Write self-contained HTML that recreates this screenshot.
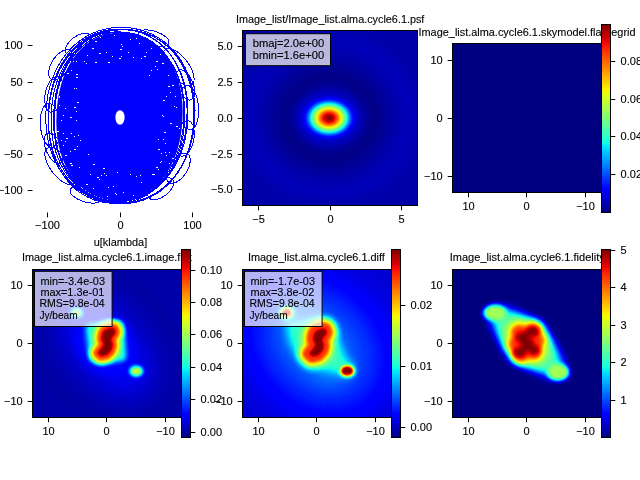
<!DOCTYPE html>
<html><head><meta charset="utf-8"><style>
html,body{margin:0;padding:0;background:#fff;width:640px;height:480px;overflow:hidden}
svg{will-change:transform}
svg text{font-family:"Liberation Sans", sans-serif;stroke:#000;stroke-width:0.12px}
</style></head><body>
<svg width="640" height="480" viewBox="0 0 640 480" style="display:block">
<defs><filter id="jet" x="0" y="0" width="1" height="1" color-interpolation-filters="sRGB" filterUnits="objectBoundingBox">
<feComponentTransfer><feFuncR type="table" tableValues="0 0 0 0 0 0 0 0 0 0 0 0 0 0 0 0 0 0 0 0 0 0 0 0 0 0 0 0 0 0 0 0 0 0 0 0 0.032 0.065 0.097 0.129 0.161 0.194 0.226 0.258 0.29 0.323 0.355 0.387 0.419 0.452 0.484 0.516 0.548 0.581 0.613 0.645 0.677 0.71 0.742 0.774 0.806 0.839 0.871 0.903 0.935 0.968 1 1 1 1 1 1 1 1 1 1 1 1 1 1 1 1 1 1 1 1 1 1 1 1 0.955 0.909 0.864 0.818 0.773 0.727 0.682 0.636 0.591 0.545 0.5"/><feFuncG type="table" tableValues="0 0 0 0 0 0 0 0 0 0 0 0 0 0.02 0.06 0.1 0.14 0.18 0.22 0.26 0.3 0.34 0.38 0.42 0.46 0.5 0.54 0.58 0.62 0.66 0.7 0.74 0.78 0.82 0.86 0.9 0.94 0.98 1 1 1 1 1 1 1 1 1 1 1 1 1 1 1 1 1 1 1 1 1 1 1 1 1 1 1 0.963 0.926 0.889 0.852 0.815 0.778 0.741 0.704 0.667 0.63 0.593 0.556 0.519 0.481 0.444 0.407 0.37 0.333 0.296 0.259 0.222 0.185 0.148 0.111 0.074 0.037 0 0 0 0 0 0 0 0 0 0"/><feFuncB type="table" tableValues="0.5 0.545 0.591 0.636 0.682 0.727 0.773 0.818 0.864 0.909 0.955 1 1 1 1 1 1 1 1 1 1 1 1 1 1 1 1 1 1 1 1 1 1 1 1 0.968 0.935 0.903 0.871 0.839 0.806 0.774 0.742 0.71 0.677 0.645 0.613 0.581 0.548 0.516 0.484 0.452 0.419 0.387 0.355 0.323 0.29 0.258 0.226 0.194 0.161 0.129 0.097 0.065 0.032 0 0 0 0 0 0 0 0 0 0 0 0 0 0 0 0 0 0 0 0 0 0 0 0 0 0 0 0 0 0 0 0 0 0 0 0"/><feFuncA type="identity"/></feComponentTransfer></filter><radialGradient id="gau"><stop offset="0.0000" stop-color="#fff" stop-opacity="1.0000"/><stop offset="0.0625" stop-color="#fff" stop-opacity="0.9826"/><stop offset="0.1250" stop-color="#fff" stop-opacity="0.9321"/><stop offset="0.1875" stop-color="#fff" stop-opacity="0.8537"/><stop offset="0.2500" stop-color="#fff" stop-opacity="0.7548"/><stop offset="0.3125" stop-color="#fff" stop-opacity="0.6444"/><stop offset="0.3750" stop-color="#fff" stop-opacity="0.5311"/><stop offset="0.4375" stop-color="#fff" stop-opacity="0.4226"/><stop offset="0.5000" stop-color="#fff" stop-opacity="0.3247"/><stop offset="0.5625" stop-color="#fff" stop-opacity="0.2408"/><stop offset="0.6250" stop-color="#fff" stop-opacity="0.1724"/><stop offset="0.6875" stop-color="#fff" stop-opacity="0.1192"/><stop offset="0.7500" stop-color="#fff" stop-opacity="0.0796"/><stop offset="0.8125" stop-color="#fff" stop-opacity="0.0513"/><stop offset="0.8750" stop-color="#fff" stop-opacity="0.0319"/><stop offset="0.9375" stop-color="#fff" stop-opacity="0.0192"/><stop offset="1.0000" stop-color="#fff" stop-opacity="0.0111"/></radialGradient><linearGradient id="cbar" x1="0" y1="1" x2="0" y2="0"><stop offset="0.000" stop-color="rgb(0,0,128)"/><stop offset="0.025" stop-color="rgb(0,0,156)"/><stop offset="0.050" stop-color="rgb(0,0,185)"/><stop offset="0.075" stop-color="rgb(0,0,214)"/><stop offset="0.100" stop-color="rgb(0,0,243)"/><stop offset="0.125" stop-color="rgb(0,0,255)"/><stop offset="0.150" stop-color="rgb(0,26,255)"/><stop offset="0.175" stop-color="rgb(0,51,255)"/><stop offset="0.200" stop-color="rgb(0,77,255)"/><stop offset="0.225" stop-color="rgb(0,102,255)"/><stop offset="0.250" stop-color="rgb(0,128,255)"/><stop offset="0.275" stop-color="rgb(0,153,255)"/><stop offset="0.300" stop-color="rgb(0,179,255)"/><stop offset="0.325" stop-color="rgb(0,204,255)"/><stop offset="0.350" stop-color="rgb(0,230,247)"/><stop offset="0.375" stop-color="rgb(21,255,226)"/><stop offset="0.400" stop-color="rgb(41,255,206)"/><stop offset="0.425" stop-color="rgb(62,255,185)"/><stop offset="0.450" stop-color="rgb(82,255,165)"/><stop offset="0.475" stop-color="rgb(103,255,144)"/><stop offset="0.500" stop-color="rgb(123,255,123)"/><stop offset="0.525" stop-color="rgb(144,255,103)"/><stop offset="0.550" stop-color="rgb(165,255,82)"/><stop offset="0.575" stop-color="rgb(185,255,62)"/><stop offset="0.600" stop-color="rgb(206,255,41)"/><stop offset="0.625" stop-color="rgb(226,255,21)"/><stop offset="0.650" stop-color="rgb(247,246,0)"/><stop offset="0.675" stop-color="rgb(255,222,0)"/><stop offset="0.700" stop-color="rgb(255,198,0)"/><stop offset="0.725" stop-color="rgb(255,175,0)"/><stop offset="0.750" stop-color="rgb(255,151,0)"/><stop offset="0.775" stop-color="rgb(255,128,0)"/><stop offset="0.800" stop-color="rgb(255,104,0)"/><stop offset="0.825" stop-color="rgb(255,80,0)"/><stop offset="0.850" stop-color="rgb(255,57,0)"/><stop offset="0.875" stop-color="rgb(255,33,0)"/><stop offset="0.900" stop-color="rgb(243,9,0)"/><stop offset="0.925" stop-color="rgb(214,0,0)"/><stop offset="0.950" stop-color="rgb(185,0,0)"/><stop offset="0.975" stop-color="rgb(156,0,0)"/><stop offset="1.000" stop-color="rgb(128,0,0)"/></linearGradient><radialGradient id="psfdark"><stop offset="0" stop-color="#000" stop-opacity="0"/><stop offset="0.42" stop-color="#000" stop-opacity="0"/><stop offset="0.55" stop-color="#000" stop-opacity="0.6"/><stop offset="0.65" stop-color="#000" stop-opacity="0.85"/><stop offset="0.78" stop-color="#000" stop-opacity="0.5"/><stop offset="0.9" stop-color="#000" stop-opacity="0.15"/><stop offset="1" stop-color="#000" stop-opacity="0"/></radialGradient><radialGradient id="psfedge"><stop offset="0" stop-color="#000" stop-opacity="0"/><stop offset="0.45" stop-color="#000" stop-opacity="0"/><stop offset="0.6" stop-color="#000" stop-opacity="0.35"/><stop offset="0.72" stop-color="#000" stop-opacity="0.45"/><stop offset="0.85" stop-color="#000" stop-opacity="0.2"/><stop offset="1" stop-color="#000" stop-opacity="0"/></radialGradient><radialGradient id="psflight"><stop offset="0" stop-color="#fff" stop-opacity="0"/><stop offset="0.6" stop-color="#fff" stop-opacity="0"/><stop offset="0.8" stop-color="#fff" stop-opacity="0.015"/><stop offset="1" stop-color="#fff" stop-opacity="0"/></radialGradient><filter id="b14" filterUnits="userSpaceOnUse" x="-100" y="-100" width="840" height="680" color-interpolation-filters="sRGB"><feGaussianBlur stdDeviation="14"/></filter><filter id="b6" filterUnits="userSpaceOnUse" x="-100" y="-100" width="840" height="680" color-interpolation-filters="sRGB"><feGaussianBlur stdDeviation="6"/></filter><filter id="b2_8" filterUnits="userSpaceOnUse" x="-100" y="-100" width="840" height="680" color-interpolation-filters="sRGB"><feGaussianBlur stdDeviation="2.8"/></filter><filter id="b2_3" filterUnits="userSpaceOnUse" x="-100" y="-100" width="840" height="680" color-interpolation-filters="sRGB"><feGaussianBlur stdDeviation="2.3"/></filter><filter id="b2" filterUnits="userSpaceOnUse" x="-100" y="-100" width="840" height="680" color-interpolation-filters="sRGB"><feGaussianBlur stdDeviation="2"/></filter><filter id="b1_5" filterUnits="userSpaceOnUse" x="-100" y="-100" width="840" height="680" color-interpolation-filters="sRGB"><feGaussianBlur stdDeviation="1.5"/></filter><filter id="b1_2" filterUnits="userSpaceOnUse" x="-100" y="-100" width="840" height="680" color-interpolation-filters="sRGB"><feGaussianBlur stdDeviation="1.2"/></filter><filter id="b2_2" filterUnits="userSpaceOnUse" x="-100" y="-100" width="840" height="680" color-interpolation-filters="sRGB"><feGaussianBlur stdDeviation="2.2"/></filter><filter id="b2_5" filterUnits="userSpaceOnUse" x="-100" y="-100" width="840" height="680" color-interpolation-filters="sRGB"><feGaussianBlur stdDeviation="2.5"/></filter><filter id="b20" filterUnits="userSpaceOnUse" x="-100" y="-100" width="840" height="680" color-interpolation-filters="sRGB"><feGaussianBlur stdDeviation="20"/></filter><filter id="b8" filterUnits="userSpaceOnUse" x="-100" y="-100" width="840" height="680" color-interpolation-filters="sRGB"><feGaussianBlur stdDeviation="8"/></filter><filter id="b4_5" filterUnits="userSpaceOnUse" x="-100" y="-100" width="840" height="680" color-interpolation-filters="sRGB"><feGaussianBlur stdDeviation="4.5"/></filter><filter id="b3" filterUnits="userSpaceOnUse" x="-100" y="-100" width="840" height="680" color-interpolation-filters="sRGB"><feGaussianBlur stdDeviation="3"/></filter><filter id="b1_6" filterUnits="userSpaceOnUse" x="-100" y="-100" width="840" height="680" color-interpolation-filters="sRGB"><feGaussianBlur stdDeviation="1.6"/></filter><filter id="b1_3" filterUnits="userSpaceOnUse" x="-100" y="-100" width="840" height="680" color-interpolation-filters="sRGB"><feGaussianBlur stdDeviation="1.3"/></filter><filter id="b1_8" filterUnits="userSpaceOnUse" x="-100" y="-100" width="840" height="680" color-interpolation-filters="sRGB"><feGaussianBlur stdDeviation="1.8"/></filter><filter id="b5" filterUnits="userSpaceOnUse" x="-100" y="-100" width="840" height="680" color-interpolation-filters="sRGB"><feGaussianBlur stdDeviation="5"/></filter><filter id="b3_2" filterUnits="userSpaceOnUse" x="-100" y="-100" width="840" height="680" color-interpolation-filters="sRGB"><feGaussianBlur stdDeviation="3.2"/></filter><filter id="b2_4" filterUnits="userSpaceOnUse" x="-100" y="-100" width="840" height="680" color-interpolation-filters="sRGB"><feGaussianBlur stdDeviation="2.4"/></filter></defs>
<g fill="none" stroke="#0000ff" stroke-width="1" shape-rendering="crispEdges" transform="rotate(3 119.5 116.5)">
<path d="M182.5,116.5 L182.3,125.2 L181.6,133.0 L180.5,140.4 L179.0,147.5 L177.0,154.2 L174.6,160.6 L171.8,166.6 L168.7,172.2 L165.1,177.4 L161.3,182.1 L157.1,186.3 L152.6,190.0 L147.8,193.2 L142.7,195.8 L137.4,197.8 L131.9,199.3 L126.0,200.2 L119.5,200.5 L113.0,200.2 L107.1,199.3 L101.6,197.8 L96.3,195.8 L91.2,193.2 L86.4,190.0 L81.9,186.3 L77.7,182.1 L73.9,177.4 L70.3,172.2 L67.2,166.6 L64.4,160.6 L62.0,154.2 L60.0,147.5 L58.5,140.4 L57.4,133.0 L56.7,125.2 L56.5,116.5 L56.7,107.8 L57.4,100.0 L58.5,92.6 L60.0,85.5 L62.0,78.8 L64.4,72.4 L67.2,66.4 L70.3,60.8 L73.9,55.6 L77.7,50.9 L81.9,46.7 L86.4,43.0 L91.2,39.8 L96.3,37.2 L101.6,35.2 L107.1,33.7 L113.0,32.8 L119.5,32.5 L126.0,32.8 L131.9,33.7 L137.4,35.2 L142.7,37.2 L147.8,39.8 L152.6,43.0 L157.1,46.7 L161.3,50.9 L165.1,55.6 L168.7,60.8 L171.8,66.4 L174.6,72.4 L177.0,78.8 L179.0,85.5 L180.5,92.6 L181.6,100.0 L182.3,107.8Z" fill="#0000ff" stroke="none" shape-rendering="auto"/>
<path d="M181.4,116.7 L181.2,124.9 L180.5,132.6 L179.4,139.9 L177.8,147.0 L175.7,153.8 L173.3,160.2 L170.4,166.3 L167.2,172.0 L163.6,177.3 L159.6,182.1 L155.3,186.4 L150.7,190.2 L145.9,193.4 L140.8,196.1 L135.5,198.2 L129.9,199.8 L124.1,200.7 L117.9,201.0 L111.7,200.7 L105.9,199.8 L100.4,198.2 L95.1,196.1 L90.0,193.4 L85.1,190.2 L80.5,186.4 L76.2,182.1 L72.3,177.3 L68.7,172.0 L65.4,166.3 L62.6,160.2 L60.1,153.8 L58.1,147.0 L56.5,139.9 L55.3,132.6 L54.7,124.9 L54.4,116.7 L54.7,108.4 L55.3,100.8 L56.5,93.4 L58.1,86.3 L60.1,79.6 L62.6,73.1 L65.4,67.0 L68.7,61.3 L72.3,56.1 L76.2,51.3 L80.5,47.0 L85.1,43.2 L90.0,39.9 L95.1,37.2 L100.4,35.1 L105.9,33.6 L111.7,32.7 L117.9,32.4 L124.1,32.7 L129.9,33.6 L135.5,35.1 L140.8,37.2 L145.9,39.9 L150.7,43.2 L155.3,47.0 L159.6,51.3 L163.6,56.1 L167.2,61.3 L170.4,67.0 L173.3,73.1 L175.7,79.6 L177.8,86.3 L179.4,93.4 L180.5,100.8 L181.2,108.4Z"/>
<path d="M183.8,116.9 L183.6,125.2 L182.8,132.9 L181.7,140.3 L180.0,147.4 L178.0,154.3 L175.5,160.7 L172.5,166.9 L169.2,172.6 L165.5,177.9 L161.4,182.7 L157.0,187.0 L152.3,190.9 L147.4,194.1 L142.1,196.8 L136.7,199.0 L131.0,200.5 L125.1,201.4 L118.7,201.7 L112.3,201.4 L106.4,200.5 L100.8,199.0 L95.3,196.8 L90.1,194.1 L85.1,190.9 L80.4,187.0 L76.0,182.7 L71.9,177.9 L68.2,172.6 L64.9,166.9 L62.0,160.7 L59.5,154.3 L57.4,147.4 L55.8,140.3 L54.6,132.9 L53.9,125.2 L53.6,116.9 L53.9,108.6 L54.6,100.9 L55.8,93.5 L57.4,86.4 L59.5,79.6 L62.0,73.1 L64.9,67.0 L68.2,61.2 L71.9,56.0 L76.0,51.1 L80.4,46.8 L85.1,43.0 L90.1,39.7 L95.3,37.0 L100.8,34.9 L106.4,33.3 L112.3,32.4 L118.7,32.1 L125.1,32.4 L131.0,33.3 L136.7,34.9 L142.1,37.0 L147.4,39.7 L152.3,43.0 L157.0,46.8 L161.4,51.1 L165.5,56.0 L169.2,61.2 L172.5,67.0 L175.5,73.1 L178.0,79.6 L180.0,86.4 L181.7,93.5 L182.8,100.9 L183.6,108.6Z"/>
<path d="M186.9,114.8 L186.7,123.1 L185.9,130.9 L184.7,138.3 L183.1,145.5 L180.9,152.3 L178.4,158.8 L175.4,165.0 L172.0,170.8 L168.2,176.1 L164.0,180.9 L159.5,185.3 L154.7,189.1 L149.6,192.4 L144.2,195.2 L138.6,197.3 L132.8,198.8 L126.8,199.8 L120.3,200.1 L113.7,199.8 L107.7,198.8 L101.9,197.3 L96.3,195.2 L90.9,192.4 L85.8,189.1 L81.0,185.3 L76.5,180.9 L72.3,176.1 L68.6,170.8 L65.1,165.0 L62.1,158.8 L59.6,152.3 L57.4,145.5 L55.8,138.3 L54.6,130.9 L53.9,123.1 L53.6,114.8 L53.9,106.4 L54.6,98.7 L55.8,91.2 L57.4,84.1 L59.6,77.2 L62.1,70.7 L65.1,64.5 L68.6,58.8 L72.3,53.4 L76.5,48.6 L81.0,44.2 L85.8,40.4 L90.9,37.1 L96.3,34.4 L101.9,32.2 L107.7,30.7 L113.7,29.8 L120.3,29.5 L126.8,29.8 L132.8,30.7 L138.6,32.2 L144.2,34.4 L149.6,37.1 L154.7,40.4 L159.5,44.2 L164.0,48.6 L168.2,53.4 L172.0,58.8 L175.4,64.5 L178.4,70.7 L180.9,77.2 L183.1,84.1 L184.7,91.2 L185.9,98.7 L186.7,106.4Z"/>
<path d="M184.8,117.8 L184.5,126.2 L183.8,134.0 L182.6,141.5 L180.9,148.7 L178.7,155.6 L176.1,162.2 L173.0,168.4 L169.5,174.2 L165.6,179.5 L161.4,184.4 L156.8,188.8 L151.8,192.7 L146.6,196.0 L141.1,198.7 L135.4,200.9 L129.5,202.4 L123.3,203.3 L116.6,203.6 L109.9,203.3 L103.7,202.4 L97.8,200.9 L92.0,198.7 L86.5,196.0 L81.3,192.7 L76.4,188.8 L71.8,184.4 L67.5,179.5 L63.7,174.2 L60.2,168.4 L57.1,162.2 L54.5,155.6 L52.3,148.7 L50.6,141.5 L49.4,134.0 L48.6,126.2 L48.4,117.8 L48.6,109.5 L49.4,101.7 L50.6,94.2 L52.3,87.0 L54.5,80.1 L57.1,73.5 L60.2,67.3 L63.7,61.5 L67.5,56.2 L71.8,51.3 L76.4,46.9 L81.3,43.0 L86.5,39.7 L92.0,37.0 L97.8,34.8 L103.7,33.3 L109.9,32.4 L116.6,32.0 L123.3,32.4 L129.5,33.3 L135.4,34.8 L141.1,37.0 L146.6,39.7 L151.8,43.0 L156.8,46.9 L161.4,51.3 L165.6,56.2 L169.5,61.5 L173.0,67.3 L176.1,73.5 L178.7,80.1 L180.9,87.0 L182.6,94.2 L183.8,101.7 L184.5,109.5Z"/>
<path d="M187.8,115.4 L187.6,123.9 L186.8,131.7 L185.6,139.3 L183.8,146.5 L181.6,153.4 L178.9,160.0 L175.8,166.3 L172.2,172.1 L168.2,177.5 L163.9,182.4 L159.2,186.8 L154.1,190.7 L148.8,194.0 L143.2,196.8 L137.3,198.9 L131.2,200.5 L124.9,201.4 L118.1,201.7 L111.2,201.4 L104.9,200.5 L98.8,198.9 L92.9,196.8 L87.3,194.0 L82.0,190.7 L77.0,186.8 L72.2,182.4 L67.9,177.5 L63.9,172.1 L60.3,166.3 L57.2,160.0 L54.5,153.4 L52.3,146.5 L50.5,139.3 L49.3,131.7 L48.5,123.9 L48.3,115.4 L48.5,107.0 L49.3,99.1 L50.5,91.6 L52.3,84.4 L54.5,77.4 L57.2,70.8 L60.3,64.6 L63.9,58.8 L67.9,53.4 L72.2,48.5 L77.0,44.1 L82.0,40.2 L87.3,36.9 L92.9,34.1 L98.8,31.9 L104.9,30.4 L111.2,29.5 L118.1,29.1 L124.9,29.5 L131.2,30.4 L137.3,31.9 L143.2,34.1 L148.8,36.9 L154.1,40.2 L159.2,44.1 L163.9,48.5 L168.2,53.4 L172.2,58.8 L175.8,64.6 L178.9,70.8 L181.6,77.4 L183.8,84.4 L185.6,91.6 L186.8,99.1 L187.6,107.0Z"/>
<path d="M193.8,116.4 L193.6,124.9 L192.8,132.8 L191.5,140.3 L189.7,147.6 L187.4,154.6 L184.7,161.2 L181.5,167.5 L177.8,173.4 L173.8,178.8 L169.3,183.7 L164.5,188.2 L159.3,192.1 L153.9,195.4 L148.2,198.2 L142.2,200.4 L135.9,201.9 L129.5,202.9 L122.5,203.2 L115.5,202.9 L109.0,201.9 L102.8,200.4 L96.8,198.2 L91.1,195.4 L85.6,192.1 L80.4,188.2 L75.6,183.7 L71.2,178.8 L67.1,173.4 L63.5,167.5 L60.3,161.2 L57.5,154.6 L55.2,147.6 L53.4,140.3 L52.1,132.8 L51.4,124.9 L51.1,116.4 L51.4,107.9 L52.1,100.0 L53.4,92.4 L55.2,85.1 L57.5,78.2 L60.3,71.5 L63.5,65.3 L67.1,59.4 L71.2,54.0 L75.6,49.0 L80.4,44.6 L85.6,40.7 L91.1,37.3 L96.8,34.6 L102.8,32.4 L109.0,30.8 L115.5,29.9 L122.5,29.6 L129.5,29.9 L135.9,30.8 L142.2,32.4 L148.2,34.6 L153.9,37.3 L159.3,40.7 L164.5,44.6 L169.3,49.0 L173.8,54.0 L177.8,59.4 L181.5,65.3 L184.7,71.5 L187.4,78.2 L189.7,85.1 L191.5,92.4 L192.8,100.0 L193.6,107.9Z"/>
<path d="M194.4,116.4 L194.2,125.0 L193.4,132.9 L192.1,140.5 L190.3,147.8 L187.9,154.8 L185.1,161.5 L181.8,167.8 L178.1,173.7 L173.9,179.2 L169.4,184.1 L164.5,188.6 L159.2,192.5 L153.6,195.9 L147.8,198.7 L141.6,200.9 L135.3,202.4 L128.7,203.4 L121.5,203.7 L114.4,203.4 L107.8,202.4 L101.4,200.9 L95.3,198.7 L89.4,195.9 L83.8,192.5 L78.6,188.6 L73.6,184.1 L69.1,179.2 L64.9,173.7 L61.2,167.8 L57.9,161.5 L55.1,154.8 L52.8,147.8 L51.0,140.5 L49.6,132.9 L48.9,125.0 L48.6,116.4 L48.9,107.9 L49.6,99.9 L51.0,92.3 L52.8,85.0 L55.1,78.0 L57.9,71.3 L61.2,65.0 L64.9,59.1 L69.1,53.6 L73.6,48.7 L78.6,44.2 L83.8,40.3 L89.4,36.9 L95.3,34.1 L101.4,31.9 L107.8,30.4 L114.4,29.4 L121.5,29.1 L128.7,29.4 L135.3,30.4 L141.6,31.9 L147.8,34.1 L153.6,36.9 L159.2,40.3 L164.5,44.2 L169.4,48.7 L173.9,53.6 L178.1,59.1 L181.8,65.0 L185.1,71.3 L187.9,78.0 L190.3,85.0 L192.1,92.3 L193.4,99.9 L194.2,107.9Z"/>
<path d="M194.8,115.1 L194.6,123.7 L193.8,131.7 L192.4,139.3 L190.5,146.7 L188.2,153.8 L185.3,160.5 L181.9,166.8 L178.1,172.7 L173.9,178.2 L169.2,183.2 L164.2,187.7 L158.8,191.7 L153.1,195.0 L147.2,197.9 L140.9,200.1 L134.4,201.6 L127.6,202.6 L120.3,202.9 L113.0,202.6 L106.3,201.6 L99.8,200.1 L93.5,197.9 L87.5,195.0 L81.8,191.7 L76.5,187.7 L71.4,183.2 L66.8,178.2 L62.5,172.7 L58.7,166.8 L55.4,160.5 L52.5,153.8 L50.1,146.7 L48.3,139.3 L46.9,131.7 L46.1,123.7 L45.8,115.1 L46.1,106.5 L46.9,98.5 L48.3,90.9 L50.1,83.5 L52.5,76.4 L55.4,69.7 L58.7,63.4 L62.5,57.5 L66.8,52.0 L71.4,47.0 L76.5,42.5 L81.8,38.5 L87.5,35.2 L93.5,32.4 L99.8,30.2 L106.3,28.6 L113.0,27.6 L120.3,27.3 L127.6,27.6 L134.4,28.6 L140.9,30.2 L147.2,32.4 L153.1,35.2 L158.8,38.5 L164.2,42.5 L169.2,47.0 L173.9,52.0 L178.1,57.5 L181.9,63.4 L185.3,69.7 L188.2,76.4 L190.5,83.5 L192.4,90.9 L193.8,98.5 L194.6,106.5Z"/>
<ellipse cx="176.0" cy="64.0" rx="10" ry="22" transform="rotate(-40 176.0 64.0)"/>
<ellipse cx="63.0" cy="169.0" rx="10" ry="22" transform="rotate(-40 63.0 169.0)"/>
<ellipse cx="188.0" cy="104.0" rx="10" ry="22" transform="rotate(-8 188.0 104.0)"/>
<ellipse cx="51.0" cy="129.0" rx="10" ry="22" transform="rotate(-8 51.0 129.0)"/>
<ellipse cx="186.0" cy="135.0" rx="9" ry="18" transform="rotate(8 186.0 135.0)"/>
<ellipse cx="53.0" cy="98.0" rx="9" ry="18" transform="rotate(8 53.0 98.0)"/>
<ellipse cx="181.0" cy="165.0" rx="9" ry="17" transform="rotate(30 181.0 165.0)"/>
<ellipse cx="58.0" cy="68.0" rx="9" ry="17" transform="rotate(30 58.0 68.0)"/>
<ellipse cx="164.5" cy="186.5" rx="8" ry="15" transform="rotate(50 164.5 186.5)"/>
<ellipse cx="74.5" cy="46.5" rx="8" ry="15" transform="rotate(50 74.5 46.5)"/>
<ellipse cx="149.5" cy="36.5" rx="7" ry="16" transform="rotate(-75 149.5 36.5)"/>
<ellipse cx="89.5" cy="196.5" rx="7" ry="16" transform="rotate(-75 89.5 196.5)"/>
<ellipse cx="183.5" cy="81.5" rx="8" ry="16" transform="rotate(-25 183.5 81.5)"/>
<ellipse cx="55.5" cy="151.5" rx="8" ry="16" transform="rotate(-25 55.5 151.5)"/>
</g>
<g fill="#fff" shape-rendering="crispEdges"><rect x="66" y="138" width="2" height="1"/><rect x="61" y="140" width="1" height="1"/><rect x="141" y="182" width="1" height="1"/><rect x="161" y="153" width="1" height="1"/><rect x="59" y="97" width="1" height="1"/><rect x="76" y="77" width="2" height="1"/><rect x="87" y="55" width="1" height="1"/><rect x="76" y="61" width="1" height="1"/><rect x="163" y="139" width="1" height="1"/><rect x="71" y="70" width="1" height="1"/><rect x="63" y="145" width="1" height="1"/><rect x="84" y="61" width="1" height="1"/><rect x="71" y="133" width="1" height="1"/><rect x="106" y="52" width="1" height="1"/><rect x="76" y="111" width="1" height="1"/><rect x="70" y="163" width="2" height="1"/><rect x="158" y="139" width="1" height="1"/><rect x="133" y="195" width="1" height="1"/><rect x="57" y="131" width="2" height="1"/><rect x="70" y="151" width="1" height="1"/><rect x="128" y="52" width="1" height="1"/><rect x="103" y="168" width="2" height="1"/><rect x="121" y="56" width="1" height="1"/><rect x="108" y="62" width="2" height="1"/><rect x="133" y="57" width="1" height="1"/><rect x="74" y="136" width="1" height="1"/><rect x="74" y="149" width="2" height="1"/><rect x="77" y="146" width="1" height="1"/><rect x="160" y="54" width="1" height="1"/><rect x="162" y="115" width="1" height="1"/><rect x="71" y="165" width="1" height="1"/><rect x="164" y="132" width="2" height="1"/><rect x="116" y="194" width="1" height="1"/><rect x="144" y="56" width="1" height="1"/><rect x="166" y="155" width="1" height="1"/><rect x="170" y="123" width="2" height="1"/><rect x="158" y="169" width="1" height="1"/><rect x="151" y="70" width="1" height="1"/><rect x="101" y="175" width="1" height="1"/><rect x="112" y="56" width="1" height="1"/><rect x="99" y="53" width="2" height="1"/><rect x="77" y="74" width="1" height="1"/><rect x="161" y="161" width="1" height="1"/><rect x="123" y="192" width="1" height="1"/><rect x="65" y="155" width="2" height="1"/><rect x="106" y="175" width="1" height="1"/><rect x="157" y="167" width="1" height="1"/><rect x="107" y="196" width="1" height="1"/><rect x="119" y="58" width="2" height="1"/><rect x="78" y="135" width="1" height="1"/><rect x="108" y="187" width="1" height="1"/><rect x="158" y="149" width="2" height="1"/><rect x="176" y="107" width="1" height="1"/><rect x="67" y="73" width="2" height="1"/><rect x="168" y="75" width="1" height="1"/><rect x="176" y="126" width="2" height="1"/><rect x="165" y="143" width="1" height="1"/><rect x="163" y="116" width="1" height="1"/><rect x="114" y="35" width="1" height="1"/><rect x="136" y="38" width="1" height="1"/><rect x="165" y="152" width="1" height="1"/><rect x="155" y="66" width="1" height="1"/><rect x="156" y="61" width="2" height="1"/><rect x="88" y="154" width="1" height="1"/><rect x="169" y="152" width="1" height="1"/><rect x="162" y="63" width="2" height="1"/><rect x="172" y="85" width="2" height="1"/><rect x="63" y="145" width="1" height="1"/><rect x="65" y="108" width="1" height="1"/><rect x="76" y="74" width="1" height="1"/><rect x="163" y="100" width="2" height="1"/><rect x="117" y="172" width="1" height="1"/><rect x="154" y="174" width="1" height="1"/><rect x="120" y="49" width="2" height="1"/><rect x="70" y="117" width="2" height="1"/><rect x="95" y="62" width="2" height="1"/><rect x="139" y="43" width="1" height="1"/><rect x="157" y="69" width="1" height="1"/><rect x="130" y="174" width="1" height="1"/><rect x="151" y="48" width="1" height="1"/><rect x="166" y="96" width="1" height="1"/><rect x="160" y="162" width="1" height="1"/><rect x="144" y="56" width="2" height="1"/><rect x="92" y="48" width="2" height="1"/><rect x="93" y="188" width="1" height="1"/><rect x="149" y="75" width="1" height="1"/><rect x="74" y="88" width="1" height="1"/><rect x="86" y="63" width="1" height="1"/><rect x="179" y="128" width="1" height="1"/><rect x="130" y="39" width="1" height="1"/><rect x="65" y="141" width="1" height="1"/><rect x="175" y="96" width="1" height="1"/><rect x="141" y="58" width="1" height="1"/><rect x="121" y="44" width="1" height="1"/><rect x="140" y="175" width="1" height="1"/><rect x="59" y="96" width="1" height="1"/><rect x="72" y="165" width="1" height="1"/><rect x="172" y="158" width="2" height="1"/><rect x="156" y="167" width="1" height="1"/><rect x="79" y="167" width="1" height="1"/><rect x="63" y="133" width="1" height="1"/><rect x="169" y="163" width="1" height="1"/><rect x="133" y="195" width="1" height="1"/><rect x="174" y="106" width="1" height="1"/><rect x="115" y="193" width="1" height="1"/><rect x="93" y="164" width="2" height="1"/><rect x="90" y="174" width="1" height="1"/><rect x="76" y="120" width="1" height="1"/><rect x="80" y="140" width="1" height="1"/><rect x="95" y="41" width="2" height="1"/><rect x="152" y="174" width="2" height="1"/><rect x="170" y="92" width="1" height="1"/><rect x="122" y="46" width="1" height="1"/><rect x="146" y="52" width="1" height="1"/><rect x="59" y="105" width="1" height="1"/><rect x="99" y="179" width="1" height="1"/><rect x="104" y="173" width="1" height="1"/><rect x="76" y="88" width="1" height="1"/><rect x="63" y="115" width="1" height="1"/><rect x="77" y="102" width="2" height="1"/><rect x="58" y="93" width="1" height="1"/><rect x="61" y="120" width="1" height="1"/><rect x="168" y="86" width="2" height="1"/><rect x="113" y="186" width="1" height="1"/><rect x="86" y="184" width="2" height="1"/><rect x="74" y="107" width="2" height="1"/><rect x="73" y="61" width="1" height="1"/><rect x="100" y="37" width="1" height="1"/><rect x="136" y="176" width="1" height="1"/><rect x="97" y="177" width="2" height="1"/></g>
<ellipse cx="120" cy="117.5" rx="4.6" ry="7.3" fill="#fff"/>
<path d="M27.7 45.5H32.5" stroke="#000" stroke-width="1"/>
<text x="22.7" y="49.2" font-size="11" text-anchor="end" fill="#000">100</text>
<path d="M27.7 82.5H32.5" stroke="#000" stroke-width="1"/>
<text x="22.7" y="86.2" font-size="11" text-anchor="end" fill="#000">50</text>
<path d="M27.7 118.5H32.5" stroke="#000" stroke-width="1"/>
<text x="22.7" y="122.2" font-size="11" text-anchor="end" fill="#000">0</text>
<path d="M27.7 154.5H32.5" stroke="#000" stroke-width="1"/>
<text x="22.7" y="158.2" font-size="11" text-anchor="end" fill="#000">−50</text>
<path d="M27.7 190.5H32.5" stroke="#000" stroke-width="1"/>
<text x="22.7" y="194.2" font-size="11" text-anchor="end" fill="#000">−100</text>
<path d="M47.5 212.5V217.3" stroke="#000" stroke-width="1"/>
<text x="47.5" y="229" font-size="11" text-anchor="middle" fill="#000">−100</text>
<path d="M120.5 212.5V217.3" stroke="#000" stroke-width="1"/>
<text x="120.5" y="229" font-size="11" text-anchor="middle" fill="#000">0</text>
<path d="M192.5 212.5V217.3" stroke="#000" stroke-width="1"/>
<text x="192.5" y="229" font-size="11" text-anchor="middle" fill="#000">100</text>
<text x="120.5" y="245.5" font-size="11" text-anchor="middle" textLength="53.5" lengthAdjust="spacingAndGlyphs" fill="#000">u[klambda]</text>
<svg x="242" y="30" width="176" height="176" viewBox="242 30 176 176" overflow="hidden"><g filter="url(#jet)">
<rect x="200" y="0" width="260" height="260" fill="rgb(9,9,9)"/>
<ellipse cx="329" cy="117" rx="100" ry="95" fill="url(#psflight)"/>
<ellipse cx="329" cy="118" rx="38.099999999999994" ry="29.700000000000003" fill="url(#gau)"/>
<ellipse cx="329" cy="118" rx="70" ry="64" fill="url(#psfdark)"/>
<ellipse cx="329" cy="118" rx="40" ry="32" fill="url(#psfedge)"/>
</g></svg>
<rect x="242.5" y="30.5" width="175" height="175" fill="none" stroke="#000" stroke-width="1"/>
<rect x="245.4" y="33.7" width="85.1" height="32" fill="rgb(185,185,222)" stroke="#000" stroke-width="1"/>
<text x="252.7" y="46.8" font-size="10" text-anchor="start" textLength="71.5" lengthAdjust="spacingAndGlyphs" fill="#000">bmaj=2.0e+00</text>
<text x="252.7" y="58.7" font-size="10" text-anchor="start" textLength="71.5" lengthAdjust="spacingAndGlyphs" fill="#000">bmin=1.6e+00</text>
<path d="M237.7 46.5H242.5" stroke="#000" stroke-width="1"/>
<text x="232.7" y="50.2" font-size="11" text-anchor="end" fill="#000">5.0</text>
<path d="M237.7 82.5H242.5" stroke="#000" stroke-width="1"/>
<text x="232.7" y="86.2" font-size="11" text-anchor="end" fill="#000">2.5</text>
<path d="M237.7 118.5H242.5" stroke="#000" stroke-width="1"/>
<text x="232.7" y="122.2" font-size="11" text-anchor="end" fill="#000">0.0</text>
<path d="M237.7 154.5H242.5" stroke="#000" stroke-width="1"/>
<text x="232.7" y="158.2" font-size="11" text-anchor="end" fill="#000">−2.5</text>
<path d="M237.7 189.5H242.5" stroke="#000" stroke-width="1"/>
<text x="232.7" y="193.2" font-size="11" text-anchor="end" fill="#000">−5.0</text>
<path d="M258.5 205.5V210.3" stroke="#000" stroke-width="1"/>
<text x="258.5" y="222.5" font-size="11" text-anchor="middle" fill="#000">−5</text>
<path d="M330.5 205.5V210.3" stroke="#000" stroke-width="1"/>
<text x="330.5" y="222.5" font-size="11" text-anchor="middle" fill="#000">0</text>
<path d="M401.5 205.5V210.3" stroke="#000" stroke-width="1"/>
<text x="401.5" y="222.5" font-size="11" text-anchor="middle" fill="#000">5</text>
<text x="235.9" y="22.8" font-size="10.2" text-anchor="start" textLength="188.5" lengthAdjust="spacingAndGlyphs" fill="#000">Image_list/Image_list.alma.cycle6.1.psf</text>
<rect x="452" y="43" width="150" height="150" fill="rgb(0,0,128)"/>
<rect x="452.5" y="43.5" width="149" height="149" fill="none" stroke="#000" stroke-width="1"/>
<path d="M447.7 60.5H452.5" stroke="#000" stroke-width="1"/>
<text x="442.7" y="64.2" font-size="11" text-anchor="end" fill="#000">10</text>
<path d="M447.7 118.5H452.5" stroke="#000" stroke-width="1"/>
<text x="442.7" y="122.2" font-size="11" text-anchor="end" fill="#000">0</text>
<path d="M447.7 176.5H452.5" stroke="#000" stroke-width="1"/>
<text x="442.7" y="180.2" font-size="11" text-anchor="end" fill="#000">−10</text>
<path d="M468.5 192.5V197.3" stroke="#000" stroke-width="1"/>
<text x="468.5" y="210.3" font-size="11" text-anchor="middle" fill="#000">10</text>
<path d="M526.5 192.5V197.3" stroke="#000" stroke-width="1"/>
<text x="526.5" y="210.3" font-size="11" text-anchor="middle" fill="#000">0</text>
<path d="M585.5 192.5V197.3" stroke="#000" stroke-width="1"/>
<text x="585.5" y="210.3" font-size="11" text-anchor="middle" fill="#000">−10</text>
<text x="418.5" y="36.3" font-size="10.2" text-anchor="start" textLength="217" lengthAdjust="spacingAndGlyphs" fill="#000">Image_list.alma.cycle6.1.skymodel.flat.regrid</text>
<rect x="601.5" y="24.5" width="9" height="188" fill="url(#cbar)"/>
<rect x="601.5" y="24.5" width="9" height="188" fill="none" stroke="#000" stroke-width="1"/>
<path d="M610.5 174.5H615.3" stroke="#000" stroke-width="1"/>
<text x="620.6" y="178.2" font-size="11" text-anchor="start" fill="#000">0.02</text>
<path d="M610.5 136.5H615.3" stroke="#000" stroke-width="1"/>
<text x="620.6" y="140.2" font-size="11" text-anchor="start" fill="#000">0.04</text>
<path d="M610.5 99.5H615.3" stroke="#000" stroke-width="1"/>
<text x="620.6" y="103.2" font-size="11" text-anchor="start" fill="#000">0.06</text>
<path d="M610.5 61.5H615.3" stroke="#000" stroke-width="1"/>
<text x="620.6" y="65.2" font-size="11" text-anchor="start" fill="#000">0.08</text>
<svg x="32" y="269" width="150" height="149" viewBox="32 269 150 149" overflow="hidden"><g filter="url(#jet)">
<rect x="0" y="200" width="300" height="300" fill="rgb(9,9,9)"/>
<g filter="url(#b14)"><ellipse cx="106" cy="346" rx="60" ry="34" fill="rgb(28,28,28)" transform="rotate(50 106 346)"/></g>
<g filter="url(#b6)"><ellipse cx="104" cy="344" rx="28" ry="24" fill="rgb(38,38,38)" transform="rotate(50 104 344)"/></g>
<g filter="url(#b2_8)"><polygon points="90.5,328 119,326 121.5,356.5 94,357.5" fill="rgb(107,107,107)" stroke="rgb(107,107,107)" stroke-width="9" stroke-linejoin="round"/></g>
<g filter="url(#b2_3)"><polygon points="104,331 110,328.3 114,328.8 115.2,331.5 114,334.5 110.5,339 112.3,345 111,350 107,354.5 101,356 98,353 101.5,348.5 104.2,344.2 101.8,339 102.5,334" fill="rgb(143,143,143)" stroke="rgb(143,143,143)" stroke-width="17" stroke-linejoin="round"/></g>
<g filter="url(#b2)"><polygon points="104,331 110,328.3 114,328.8 115.2,331.5 114,334.5 110.5,339 112.3,345 111,350 107,354.5 101,356 98,353 101.5,348.5 104.2,344.2 101.8,339 102.5,334" fill="rgb(184,184,184)" stroke="rgb(184,184,184)" stroke-width="12.5" stroke-linejoin="round"/></g>
<g filter="url(#b1_5)"><polygon points="104,331 110,328.3 114,328.8 115.2,331.5 114,334.5 110.5,339 112.3,345 111,350 107,354.5 101,356 98,353 101.5,348.5 104.2,344.2 101.8,339 102.5,334" fill="rgb(217,217,217)" stroke="rgb(217,217,217)" stroke-width="8" stroke-linejoin="round"/></g>
<g filter="url(#b1_2)"><polygon points="104,331 110,328.3 114,328.8 115.2,331.5 114,334.5 110.5,339 112.3,345 111,350 107,354.5 101,356 98,353 101.5,348.5 104.2,344.2 101.8,339 102.5,334" fill="rgb(255,255,255)" stroke="rgb(255,255,255)" stroke-width="0.5" stroke-linejoin="round"/></g>
<g filter="url(#b2_2)"><ellipse cx="136.3" cy="371.2" rx="6.5" ry="5" fill="rgb(158,158,158)"/></g>
<g filter="url(#b2_5)"><ellipse cx="76.5" cy="312.8" rx="6" ry="4.5" fill="rgb(158,158,158)"/></g>
</g></svg>
<rect x="34.5" y="271.3" width="77.6" height="55.2" fill="rgba(255,255,255,0.7)" stroke="#000" stroke-width="1"/>
<text x="40.4" y="284.6" font-size="10.5" text-anchor="start" textLength="64.6" lengthAdjust="spacingAndGlyphs" fill="#000">min=-3.4e-03</text>
<text x="40.4" y="296.0" font-size="10.5" text-anchor="start" textLength="64" lengthAdjust="spacingAndGlyphs" fill="#000">max=1.3e-01</text>
<text x="39.4" y="307.40000000000003" font-size="10.5" text-anchor="start" textLength="65.2" lengthAdjust="spacingAndGlyphs" fill="#000">RMS=9.8e-04</text>
<text x="39.4" y="318.8" font-size="10.5" text-anchor="start" textLength="38.3" lengthAdjust="spacingAndGlyphs" fill="#000">Jy/beam</text>
<rect x="32.5" y="269.5" width="149" height="148" fill="none" stroke="#000" stroke-width="1"/>
<path d="M27.7 285.5H32.5" stroke="#000" stroke-width="1"/>
<text x="22.7" y="289.2" font-size="11" text-anchor="end" fill="#000">10</text>
<path d="M27.7 343.5H32.5" stroke="#000" stroke-width="1"/>
<text x="22.7" y="347.2" font-size="11" text-anchor="end" fill="#000">0</text>
<path d="M27.7 401.5H32.5" stroke="#000" stroke-width="1"/>
<text x="22.7" y="405.2" font-size="11" text-anchor="end" fill="#000">−10</text>
<path d="M48.5 417.5V422.3" stroke="#000" stroke-width="1"/>
<text x="48.5" y="435" font-size="11" text-anchor="middle" fill="#000">10</text>
<path d="M106.5 417.5V422.3" stroke="#000" stroke-width="1"/>
<text x="106.5" y="435" font-size="11" text-anchor="middle" fill="#000">0</text>
<path d="M165.5 417.5V422.3" stroke="#000" stroke-width="1"/>
<text x="165.5" y="435" font-size="11" text-anchor="middle" fill="#000">−10</text>
<text x="21.9" y="261" font-size="10.2" text-anchor="start" textLength="170" lengthAdjust="spacingAndGlyphs" fill="#000">Image_list.alma.cycle6.1.image.flat</text>
<rect x="181.5" y="249.5" width="9" height="188" fill="url(#cbar)"/>
<rect x="181.5" y="249.5" width="9" height="188" fill="none" stroke="#000" stroke-width="1"/>
<path d="M190.5 432.5H195.3" stroke="#000" stroke-width="1"/>
<text x="200.6" y="436.2" font-size="11" text-anchor="start" fill="#000">0.00</text>
<path d="M190.5 399.5H195.3" stroke="#000" stroke-width="1"/>
<text x="200.6" y="403.2" font-size="11" text-anchor="start" fill="#000">0.02</text>
<path d="M190.5 367.5H195.3" stroke="#000" stroke-width="1"/>
<text x="200.6" y="371.2" font-size="11" text-anchor="start" fill="#000">0.04</text>
<path d="M190.5 334.5H195.3" stroke="#000" stroke-width="1"/>
<text x="200.6" y="338.2" font-size="11" text-anchor="start" fill="#000">0.06</text>
<path d="M190.5 302.5H195.3" stroke="#000" stroke-width="1"/>
<text x="200.6" y="306.2" font-size="11" text-anchor="start" fill="#000">0.08</text>
<path d="M190.5 270.5H195.3" stroke="#000" stroke-width="1"/>
<text x="200.6" y="274.2" font-size="11" text-anchor="start" fill="#000">0.10</text>
<svg x="242" y="269" width="150" height="149" viewBox="242 269 150 149" overflow="hidden"><g filter="url(#jet)">
<rect x="200" y="200" width="300" height="300" fill="rgb(19,19,19)"/>
<g filter="url(#b20)"><ellipse cx="318" cy="346" rx="72" ry="56" fill="rgb(55,55,55)" transform="rotate(45 318 346)"/></g>
<g filter="url(#b8)"><ellipse cx="316" cy="346" rx="42" ry="24" fill="rgb(66,66,66)" transform="rotate(52 316 346)"/></g>
<g filter="url(#b4_5)"><polygon points="286,322 329,321 339.5,344 345,358.5 354,366 350,377 338,373 318,368 302,361 291,344" fill="rgb(107,107,107)"/></g>
<g filter="url(#b3)"><polygon points="104,331 110,328.3 114,328.8 115.2,331.5 114,334.5 110.5,339 112.3,345 111,350 107,354.5 101,356 98,353 101.5,348.5 104.2,344.2 101.8,339 102.5,334" fill="rgb(143,143,143)" stroke="rgb(143,143,143)" stroke-width="23" stroke-linejoin="round" transform="translate(211 0.5)"/></g>
<g filter="url(#b2_2)"><polygon points="104,331 110,328.3 114,328.8 115.2,331.5 114,334.5 110.5,339 112.3,345 111,350 107,354.5 101,356 98,353 101.5,348.5 104.2,344.2 101.8,339 102.5,334" fill="rgb(184,184,184)" stroke="rgb(184,184,184)" stroke-width="17" stroke-linejoin="round" transform="translate(211 0.5)"/></g>
<g filter="url(#b1_6)"><polygon points="104,331 110,328.3 114,328.8 115.2,331.5 114,334.5 110.5,339 112.3,345 111,350 107,354.5 101,356 98,353 101.5,348.5 104.2,344.2 101.8,339 102.5,334" fill="rgb(219,219,219)" stroke="rgb(219,219,219)" stroke-width="11.5" stroke-linejoin="round" transform="translate(211 0.5)"/></g>
<g filter="url(#b1_3)"><polygon points="104,331 110,328.3 114,328.8 115.2,331.5 114,334.5 110.5,339 112.3,345 111,350 107,354.5 101,356 98,353 101.5,348.5 104.2,344.2 101.8,339 102.5,334" fill="rgb(255,255,255)" stroke="rgb(255,255,255)" stroke-width="0.1" stroke-linejoin="round" transform="translate(211.5 0.5)"/></g>
<g filter="url(#b1_8)"><ellipse cx="347.2" cy="370.9" rx="8.5" ry="6.8" fill="rgb(128,128,128)"/></g>
<g filter="url(#b1_3)"><ellipse cx="347.2" cy="370.9" rx="6.3" ry="5" fill="rgb(217,217,217)"/></g>
<g filter="url(#b1_2)"><ellipse cx="347.2" cy="370.9" rx="5" ry="3.6" fill="rgb(255,255,255)"/></g>
<g filter="url(#b2_5)"><ellipse cx="286.8" cy="312.8" rx="7.5" ry="6" fill="rgb(140,140,140)"/></g>
<g filter="url(#b1_8)"><ellipse cx="286.8" cy="312.8" rx="5.2" ry="4.3" fill="rgb(242,242,242)"/></g>
</g></svg>
<rect x="244.5" y="271.3" width="77.6" height="55.2" fill="rgba(255,255,255,0.7)" stroke="#000" stroke-width="1"/>
<text x="250.4" y="284.6" font-size="10.5" text-anchor="start" textLength="64.6" lengthAdjust="spacingAndGlyphs" fill="#000">min=-1.7e-03</text>
<text x="250.4" y="296.0" font-size="10.5" text-anchor="start" textLength="64" lengthAdjust="spacingAndGlyphs" fill="#000">max=3.8e-02</text>
<text x="249.4" y="307.40000000000003" font-size="10.5" text-anchor="start" textLength="65.2" lengthAdjust="spacingAndGlyphs" fill="#000">RMS=9.8e-04</text>
<text x="249.4" y="318.8" font-size="10.5" text-anchor="start" textLength="38.3" lengthAdjust="spacingAndGlyphs" fill="#000">Jy/beam</text>
<rect x="242.5" y="269.5" width="149" height="148" fill="none" stroke="#000" stroke-width="1"/>
<path d="M237.7 285.5H242.5" stroke="#000" stroke-width="1"/>
<text x="232.7" y="289.2" font-size="11" text-anchor="end" fill="#000">10</text>
<path d="M237.7 343.5H242.5" stroke="#000" stroke-width="1"/>
<text x="232.7" y="347.2" font-size="11" text-anchor="end" fill="#000">0</text>
<path d="M237.7 401.5H242.5" stroke="#000" stroke-width="1"/>
<text x="232.7" y="405.2" font-size="11" text-anchor="end" fill="#000">−10</text>
<path d="M258.5 417.5V422.3" stroke="#000" stroke-width="1"/>
<text x="258.5" y="435" font-size="11" text-anchor="middle" fill="#000">10</text>
<path d="M316.5 417.5V422.3" stroke="#000" stroke-width="1"/>
<text x="316.5" y="435" font-size="11" text-anchor="middle" fill="#000">0</text>
<path d="M375.5 417.5V422.3" stroke="#000" stroke-width="1"/>
<text x="375.5" y="435" font-size="11" text-anchor="middle" fill="#000">−10</text>
<text x="247.9" y="261" font-size="10.2" text-anchor="start" textLength="137" lengthAdjust="spacingAndGlyphs" fill="#000">Image_list.alma.cycle6.1.diff</text>
<rect x="391.5" y="249.5" width="9" height="188" fill="url(#cbar)"/>
<rect x="391.5" y="249.5" width="9" height="188" fill="none" stroke="#000" stroke-width="1"/>
<path d="M400.5 427.5H405.3" stroke="#000" stroke-width="1"/>
<text x="410.6" y="431.2" font-size="11" text-anchor="start" fill="#000">0.00</text>
<path d="M400.5 366.5H405.3" stroke="#000" stroke-width="1"/>
<text x="410.6" y="370.2" font-size="11" text-anchor="start" fill="#000">0.01</text>
<path d="M400.5 305.5H405.3" stroke="#000" stroke-width="1"/>
<text x="410.6" y="309.2" font-size="11" text-anchor="start" fill="#000">0.02</text>
<svg x="452" y="269" width="150" height="149" viewBox="452 269 150 149" overflow="hidden"><g filter="url(#jet)">
<rect x="400" y="200" width="300" height="300" fill="rgb(0,0,0)"/>
<g filter="url(#b4_5)"><ellipse cx="527" cy="342" rx="47" ry="18" fill="rgb(107,107,107)" transform="rotate(43 527 342)"/></g>
<g filter="url(#b2_2)"><ellipse cx="494.8" cy="312.8" rx="11.5" ry="8" fill="rgb(140,140,140)"/><ellipse cx="558.2" cy="372.2" rx="11" ry="8.5" fill="rgb(140,140,140)"/></g>
<g filter="url(#b5)"><ellipse cx="526.5" cy="342" rx="29" ry="21" fill="rgb(135,135,135)" transform="rotate(45 526.5 342)"/></g>
<g filter="url(#b3_2)"><circle cx="519.5" cy="333" r="12" fill="rgb(153,153,153)"/><circle cx="532.5" cy="332" r="12" fill="rgb(153,153,153)"/><circle cx="535.5" cy="341" r="12" fill="rgb(153,153,153)"/><circle cx="533.5" cy="351" r="12" fill="rgb(153,153,153)"/><circle cx="521.5" cy="353" r="12" fill="rgb(153,153,153)"/><circle cx="517.5" cy="344" r="12" fill="rgb(153,153,153)"/><circle cx="526.5" cy="342" r="12" fill="rgb(153,153,153)"/></g>
<g filter="url(#b2_4)"><circle cx="519.5" cy="333" r="8.7" fill="rgb(219,219,219)"/><circle cx="532.5" cy="332" r="8.7" fill="rgb(219,219,219)"/><circle cx="535.5" cy="341" r="8.7" fill="rgb(219,219,219)"/><circle cx="533.5" cy="351" r="8.7" fill="rgb(219,219,219)"/><circle cx="521.5" cy="353" r="8.7" fill="rgb(219,219,219)"/><circle cx="517.5" cy="344" r="8.7" fill="rgb(219,219,219)"/><circle cx="526.5" cy="342" r="8.7" fill="rgb(219,219,219)"/></g>
<g filter="url(#b2_2)"><ellipse cx="532.4" cy="331.6" rx="6.5" ry="5" fill="rgb(255,255,255)"/><ellipse cx="522.5" cy="337.5" rx="6.5" ry="5.5" fill="rgb(255,255,255)"/><ellipse cx="527.5" cy="344.5" rx="6.5" ry="6.5" fill="rgb(255,255,255)"/><ellipse cx="519.6" cy="352.4" rx="6.5" ry="5" fill="rgb(255,255,255)"/><ellipse cx="534" cy="350" rx="5.5" ry="4.5" fill="rgb(255,255,255)"/></g>
</g></svg>
<rect x="452.5" y="269.5" width="149" height="148" fill="none" stroke="#000" stroke-width="1"/>
<path d="M447.7 285.5H452.5" stroke="#000" stroke-width="1"/>
<text x="442.7" y="289.2" font-size="11" text-anchor="end" fill="#000">10</text>
<path d="M447.7 343.5H452.5" stroke="#000" stroke-width="1"/>
<text x="442.7" y="347.2" font-size="11" text-anchor="end" fill="#000">0</text>
<path d="M447.7 401.5H452.5" stroke="#000" stroke-width="1"/>
<text x="442.7" y="405.2" font-size="11" text-anchor="end" fill="#000">−10</text>
<path d="M468.5 417.5V422.3" stroke="#000" stroke-width="1"/>
<text x="468.5" y="435" font-size="11" text-anchor="middle" fill="#000">10</text>
<path d="M526.5 417.5V422.3" stroke="#000" stroke-width="1"/>
<text x="526.5" y="435" font-size="11" text-anchor="middle" fill="#000">0</text>
<path d="M585.5 417.5V422.3" stroke="#000" stroke-width="1"/>
<text x="585.5" y="435" font-size="11" text-anchor="middle" fill="#000">−10</text>
<text x="449.75" y="261" font-size="10.2" text-anchor="start" textLength="155" lengthAdjust="spacingAndGlyphs" fill="#000">Image_list.alma.cycle6.1.fidelity</text>
<rect x="601.5" y="249.5" width="9" height="188" fill="url(#cbar)"/>
<rect x="601.5" y="249.5" width="9" height="188" fill="none" stroke="#000" stroke-width="1"/>
<path d="M610.5 400.5H615.3" stroke="#000" stroke-width="1"/>
<text x="620.6" y="404.2" font-size="11" text-anchor="start" fill="#000">1</text>
<path d="M610.5 362.5H615.3" stroke="#000" stroke-width="1"/>
<text x="620.6" y="366.2" font-size="11" text-anchor="start" fill="#000">2</text>
<path d="M610.5 325.5H615.3" stroke="#000" stroke-width="1"/>
<text x="620.6" y="329.2" font-size="11" text-anchor="start" fill="#000">3</text>
<path d="M610.5 287.5H615.3" stroke="#000" stroke-width="1"/>
<text x="620.6" y="291.2" font-size="11" text-anchor="start" fill="#000">4</text>
<path d="M610.5 250.5H615.3" stroke="#000" stroke-width="1"/>
<text x="620.6" y="254.2" font-size="11" text-anchor="start" fill="#000">5</text>
</svg></body></html>
